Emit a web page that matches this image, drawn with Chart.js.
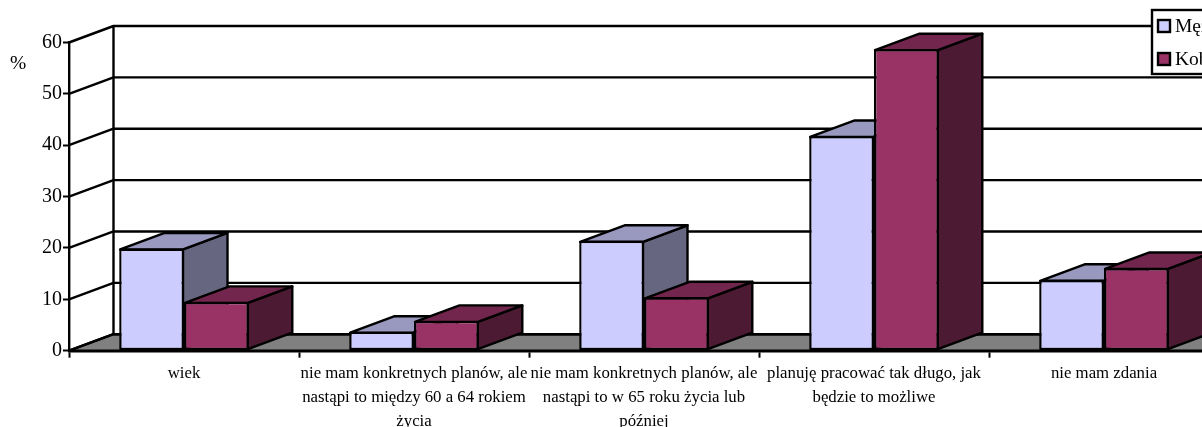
<!DOCTYPE html>
<html lang="pl">
<head>
<meta charset="utf-8">
<style>html,body{margin:0;padding:0;background:#fff;overflow:hidden;width:1202px;height:427px}canvas{display:block}</style>
<script src="https://cdn.jsdelivr.net/npm/chart.js@4"></script>
</head>
<body>
<canvas id="c" width="1300" height="427"></canvas>
<script>
const categories = [
  "wiek",
  ["nie mam konkretnych planów, ale", "nastąpi to między 60 a 64 rokiem", "życia"],
  ["nie mam konkretnych planów, ale", "nastąpi to w 65 roku życia lub", "później"],
  ["planuję pracować tak długo, jak", "będzie to możliwe"],
  "nie mam zdania"
];
const men = [19.9, 3.7, 21.4, 41.8, 13.8];
const women = [9.5, 5.8, 10.4, 58.7, 16.1];
const yTicks = [0, 10, 20, 30, 40, 50, 60];
const unitLabel = "%";
const seriesNames = ["Mężczyźni", "Kobiety"];
const FONT = '"Liberation Serif"';
const DX = 44.5, DY = 16.5, LW = 2.4;

function poly(ctx, pts, fill) {
  ctx.beginPath();
  pts.forEach((p, i) => i ? ctx.lineTo(p[0], p[1]) : ctx.moveTo(p[0], p[1]));
  ctx.closePath();
  if (fill) { ctx.fillStyle = fill; ctx.fill(); }
  ctx.lineWidth = LW; ctx.strokeStyle = '#000'; ctx.lineJoin = 'round'; ctx.stroke();
}

const threeD = {
  id: 'threeD',
  beforeDraw(chart) {
    const { ctx, scales: { x, y } } = chart;
    const L = x.left, R = x.right, B = y.getPixelForValue(0), T = y.getPixelForValue(60);
    ctx.save();
    poly(ctx, [[L, B], [L + DX, B - DY], [R + DX, B - DY], [R, B]], '#808080');
    ctx.lineWidth = LW; ctx.strokeStyle = '#000';
    yTicks.forEach(v => {
      const p = y.getPixelForValue(v);
      ctx.beginPath();
      ctx.moveTo(L, p); ctx.lineTo(L + DX, p - DY); ctx.lineTo(R + DX, p - DY);
      ctx.stroke();
    });
    ctx.beginPath(); ctx.moveTo(L + DX, B - DY); ctx.lineTo(L + DX, T - DY); ctx.stroke();
    ctx.restore();
  },
  beforeDatasetsDraw(chart) {
    const { ctx } = chart;
    chart.data.datasets.forEach((ds, i) => {
      const meta = chart.getDatasetMeta(i);
      ctx.save();
      meta.data.forEach(el => {
        const { x, y, base, width } = el.getProps(['x', 'y', 'base', 'width']);
        const l = x - width / 2 + 1, r = x + width / 2 - 1, t = y + 1, b = base - 1;
        poly(ctx, [[r, t], [r + DX, t - DY], [r + DX, b - DY], [r, b]], ds.sideColor);
        poly(ctx, [[l, t], [l + DX, t - DY], [r + DX, t - DY], [r, t]], ds.topColor);
      });
      ctx.restore();
      meta.data.forEach(el => el.draw(ctx));
    });
    return false;
  },
  afterDraw(chart) {
    const { ctx } = chart;
    ctx.save();
    ctx.fillStyle = '#000';
    ctx.textBaseline = 'middle';
    ctx.font = '19.5px ' + FONT;
    ctx.fillText(unitLabel, 10, 64);
    ctx.fillStyle = '#fff';
    ctx.fillRect(1152, 10, 100, 64);
    ctx.lineWidth = LW; ctx.strokeStyle = '#000';
    ctx.strokeRect(1152, 10, 100, 64);
    chart.data.datasets.forEach((ds, i) => {
      const yy = [26, 59][i];
      ctx.fillStyle = ds.backgroundColor;
      ctx.fillRect(1158, yy - 6, 12, 12);
      ctx.lineWidth = LW;
      ctx.strokeRect(1158, yy - 6, 12, 12);
      ctx.fillStyle = '#000';
      ctx.font = '19.5px ' + FONT;
      ctx.fillText(ds.label, 1175, yy + 1);
    });
    ctx.restore();
  }
};

new Chart(document.getElementById('c'), {
  type: 'bar',
  plugins: [threeD],
  data: {
    labels: categories,
    datasets: [
      { label: seriesNames[0], data: men, backgroundColor: '#CCCCFF', topColor: '#9999BF', sideColor: '#666680',
        borderColor: '#000', borderWidth: LW, borderSkipped: false },
      { label: seriesNames[1], data: women, backgroundColor: '#993366', topColor: '#73264D', sideColor: '#4D1A33',
        borderColor: '#000', borderWidth: LW, borderSkipped: false }
    ]
  },
  options: {
    responsive: false,
    animation: false,
    devicePixelRatio: 1,
    layout: { padding: { top: 42.5, left: 0, right: 81, bottom: 0 } },
    plugins: { legend: { display: false }, tooltip: { enabled: false }, title: { display: false } },
    datasets: { bar: { barPercentage: 1, categoryPercentage: 0.5635 } },
    scales: {
      x: {
        afterFit(s) { s.height = 427 - 350.7; },
        grid: { display: true, drawOnChartArea: false, drawTicks: true, tickColor: '#000', tickWidth: 2, tickLength: 7 },
        border: { display: true, color: '#000', width: LW },
        ticks: { color: '#000', maxRotation: 0, minRotation: 0, autoSkip: false, padding: 4,
                 font: { family: FONT, size: 16.8, lineHeight: 1.43 } }
      },
      y: {
        min: 0, max: 60,
        afterFit(s) { s.width = 69; },
        afterBuildTicks(s) { s.ticks = yTicks.map(v => ({ value: v })); },
        grid: { display: true, drawOnChartArea: false, drawTicks: true, tickColor: '#000', tickWidth: 2, tickLength: 6 },
        border: { display: true, color: '#000', width: LW },
        ticks: { color: '#000', padding: 1, font: { family: FONT, size: 20 } }
      }
    }
  }
});
</script>
</body>
</html>
